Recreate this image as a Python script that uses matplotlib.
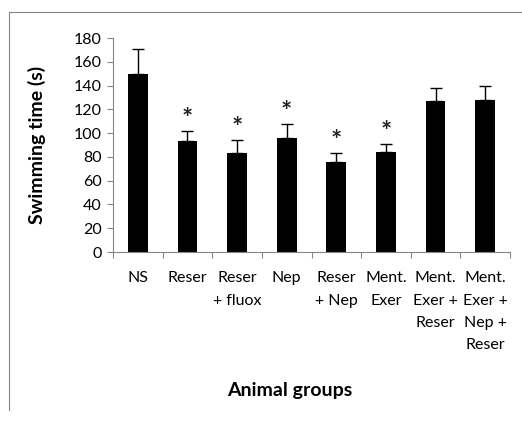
import matplotlib
matplotlib.use("Agg")
import matplotlib.pyplot as plt
from matplotlib.lines import Line2D
import numpy as np

plt.rcParams['font.family'] = ['Lato', 'DejaVu Sans']

categories = ["NS", "Reser", "Reser\n+ fluox", "Nep", "Reser\n+ Nep", "Ment.\nExer",
              "Ment.\nExer +\nReser", "Ment.\nExer +\nNep +\nReser"]
means = [150, 93, 83, 96, 76, 84, 127, 128]
errors = [21, 9, 11, 12, 7, 7, 11, 11.5]
significant = [False, True, True, True, True, True, False, False]
yticks = [0, 20, 40, 60, 80, 100, 120, 140, 160, 180]

fig = plt.figure(figsize=(5.22, 4.21), dpi=100)
ax = fig.add_axes([0.2165, 0.4014, 0.7605, 0.5083])

x = np.arange(len(categories))
ax.bar(x, means, width=0.4, color='black', zorder=2)
ax.errorbar(x, means, yerr=[np.zeros(len(means)), errors], fmt='none',
            ecolor='black', elinewidth=1, capsize=4, capthick=1, zorder=3)

for xi, m, e, s in zip(x, means, errors, significant):
    if s:
        ax.annotate('*', (xi, m + e), xytext=(0, 0), textcoords='offset points',
                    ha='center', va='bottom', fontsize=19, fontweight='bold',
                    color='#222222')

ax.set_xlim(-0.5, len(categories) - 0.5)
ax.set_ylim(0, 180)
ax.set_yticks(yticks)
ax.tick_params(axis='y', length=4, width=0.8, color='#868686', labelsize=11.5, pad=4)

ax.set_xticks(x)
ax.set_xticklabels(categories, fontsize=11.5, linespacing=1.75, va='top')
ax.tick_params(axis='x', which='major', length=0, pad=14)
ax.set_xticks(np.arange(-0.5, len(categories), 1.0), minor=True)
ax.tick_params(axis='x', which='minor', length=4, width=0.8, color='#868686')

for sp in ['top', 'right']:
    ax.spines[sp].set_visible(False)
for sp in ['left', 'bottom']:
    ax.spines[sp].set_color('#868686')
    ax.spines[sp].set_linewidth(0.8)

ax.set_ylabel('Swimming time (s)', fontsize=14, fontweight='bold', labelpad=20)
fig.text(0.556, 0.073, 'Animal groups', fontsize=14, fontweight='bold',
         ha='center', va='center')

# chart-area border (top and left visible)
fig.add_artist(Line2D([9/522, 1.0], [1 - 12/421, 1 - 12/421], color='#868686', lw=0.8,
                      transform=fig.transFigure))
fig.add_artist(Line2D([9/522, 9/522], [1 - 12/421, 1 - 410/421], color='#868686', lw=0.8,
                      transform=fig.transFigure))

fig.savefig('out.png', dpi=100)
